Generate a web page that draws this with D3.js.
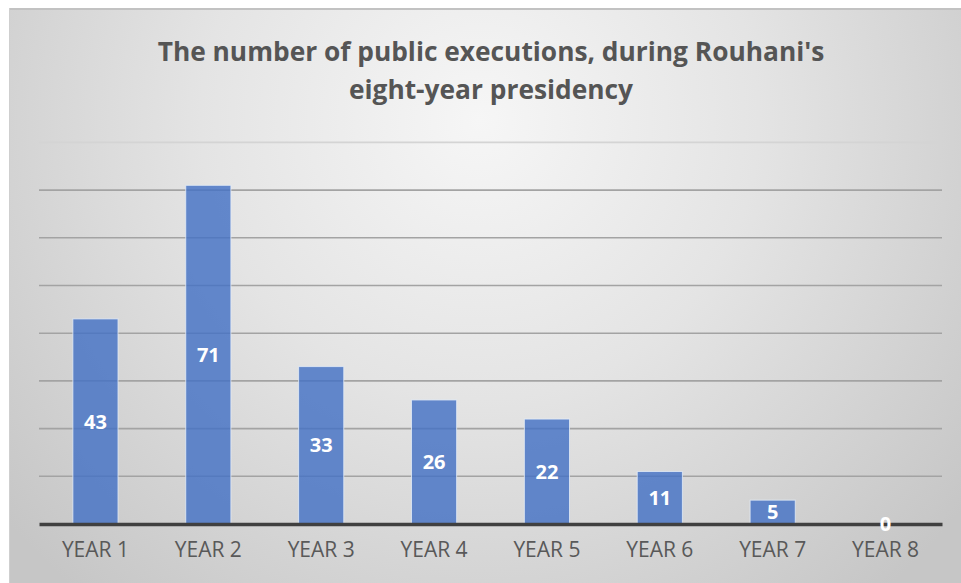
<!DOCTYPE html>
<html>
<head>
<meta charset="utf-8">
<script src="https://cdn.jsdelivr.net/npm/d3@7/dist/d3.min.js"></script>
<style>
  html, body { margin: 0; padding: 0; background: #ffffff; }
  svg { display: block; }
</style>
</head>
<body>
<svg id="chart" width="961" height="583"></svg>
<script>
// Public executions per year of the presidency
const categories = ["YEAR 1", "YEAR 2", "YEAR 3", "YEAR 4", "YEAR 5", "YEAR 6", "YEAR 7", "YEAR 8"];
const executions = [43, 71, 33, 26, 22, 11, 5, 0];
const gridTicks = [10, 20, 30, 40, 50, 60, 70, 80];
const titleLines = ["The number of public executions, during Rouhani's", "eight-year presidency"];

const W = 961, H = 583;
const svg = d3.select("#chart");
const defs = svg.append("defs");

// Soft radial backdrop of the chart area
const grad = defs.append("radialGradient")
  .attr("id", "bg").attr("gradientUnits", "userSpaceOnUse")
  .attr("cx", 480).attr("cy", 120).attr("r", 620);
grad.append("stop").attr("offset", "0%").attr("stop-color", "#f6f6f6");
grad.append("stop").attr("offset", "45%").attr("stop-color", "#e4e4e4");
grad.append("stop").attr("offset", "100%").attr("stop-color", "#c6c6c6");

const frameX = 9, frameY = 8;
svg.append("rect")
  .attr("x", frameX).attr("y", frameY)
  .attr("width", W - frameX + 5).attr("height", H - frameY + 5)
  .attr("fill", "url(#bg)");
// edge shading of the frame
svg.append("line").attr("x1", frameX).attr("x2", W).attr("y1", frameY + 1).attr("y2", frameY + 1)
  .attr("stroke", "#c2c2c2").attr("stroke-width", 2);
svg.append("line").attr("x1", frameX + 0.5).attr("x2", frameX + 0.5).attr("y1", frameY).attr("y2", H)
  .attr("stroke", "#cfcfcf").attr("stroke-width", 1);

// Plot scales
const plot = { left: 39, right: 942, base: 524, top: 142.4 };
const x = d3.scaleBand().domain(categories)
  .range([plot.left, plot.right]).paddingInner(0.6).paddingOuter(0.3);
const y = d3.scaleLinear().domain([0, 80]).range([plot.base, plot.top]);

// Horizontal gridlines
svg.append("g").selectAll("line").data(gridTicks).join("line")
  .attr("x1", plot.left).attr("x2", plot.right)
  .attr("y1", d => y(d)).attr("y2", d => y(d))
  .attr("stroke", d => d === 80 ? "#d4d4d4" : "#a3a3a3")
  .attr("stroke-width", 1.6);

// Bars
svg.append("g").selectAll("rect").data(executions).join("rect")
  .attr("x", (d, i) => x(categories[i]))
  .attr("y", d => y(d))
  .attr("width", x.bandwidth())
  .attr("height", d => y(0) - y(d))
  .attr("fill", "#4472c4").attr("fill-opacity", 0.82)
  .attr("stroke", "#e4ecf7").attr("stroke-opacity", 0.8).attr("stroke-width", 1);

// Category axis (baseline + labels)
const xAxis = d3.axisBottom(x).tickSize(0).tickPadding(18);
const ax = svg.append("g").attr("transform", `translate(0,${plot.base})`).call(xAxis);
ax.select(".domain").attr("stroke", "#404040").attr("stroke-width", 3.5);
ax.selectAll("text")
  .attr("font-family", "'Open Sans', sans-serif")
  .attr("font-size", 21).attr("fill", "#595959");

// Value labels, centred in each bar
svg.append("g").selectAll("text").data(executions).join("text")
  .attr("x", (d, i) => x(categories[i]) + x.bandwidth() / 2)
  .attr("y", d => (y(d) + y(0)) / 2)
  .attr("dy", "0.36em")
  .attr("text-anchor", "middle")
  .attr("font-family", "'Open Sans', sans-serif")
  .attr("font-weight", 700).attr("font-size", 20)
  .attr("fill", "#ffffff")
  .text(d => d);

// Title
const title = svg.append("g").attr("font-family", "'Open Sans', sans-serif")
  .attr("font-weight", 700).attr("fill", "#555555").attr("text-anchor", "middle");
const t1 = title.append("text").attr("x", 491).attr("y", 61).attr("font-size", 25).text(titleLines[0]);
const t2 = title.append("text").attr("x", 491).attr("y", 99).attr("font-size", 25).text(titleLines[1]);
// fit the first line to its target width and reuse that size
const fs = 25 * 667 / t1.node().getComputedTextLength();
t1.attr("font-size", fs);
t2.attr("font-size", fs);
</script>
</body>
</html>
